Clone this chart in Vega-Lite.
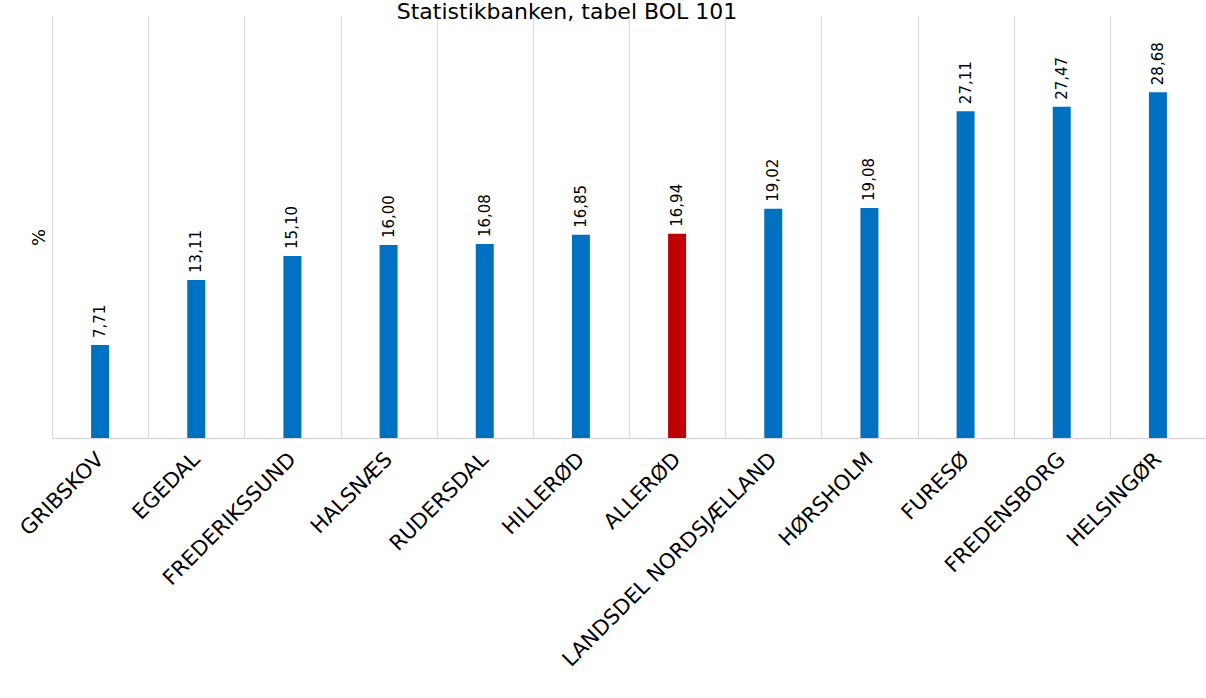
{
  "$schema": "https://vega.github.io/schema/vega-lite/v6.json",
  "autosize": {"type": "none"},
  "padding": {"left": 52, "top": 16, "right": 0, "bottom": 260},
  "width": 1154,
  "height": 422,
  "config": {
    "locale": {"number": {"decimal": ",", "thousands": ".", "grouping": [3], "currency": ["", " kr."]}},
    "view": {"stroke": null},
    "font": "DejaVu Sans"
  },
  "title": {
    "text": "Statistikbanken, tabel BOL 101",
    "font": "DejaVu Sans",
    "fontSize": 22,
    "fontWeight": "normal",
    "color": "#000000",
    "anchor": "middle",
    "baseline": "alphabetic",
    "offset": -25,
    "dx": -62
  },
  "data": {
    "values": [
      {"kommune": "GRIBSKOV", "pct": 7.71},
      {"kommune": "EGEDAL", "pct": 13.11},
      {"kommune": "FREDERIKSSUND", "pct": 15.10},
      {"kommune": "HALSNÆS", "pct": 16.00},
      {"kommune": "RUDERSDAL", "pct": 16.08},
      {"kommune": "HILLERØD", "pct": 16.85},
      {"kommune": "ALLERØD", "pct": 16.94},
      {"kommune": "LANDSDEL NORDSJÆLLAND", "pct": 19.02},
      {"kommune": "HØRSHOLM", "pct": 19.08},
      {"kommune": "FURESØ", "pct": 27.11},
      {"kommune": "FREDENSBORG", "pct": 27.47},
      {"kommune": "HELSINGØR", "pct": 28.68}
    ]
  },
  "encoding": {
    "x": {
      "field": "kommune",
      "type": "nominal",
      "sort": null,
      "scale": {"paddingInner": 0, "paddingOuter": 0},
      "axis": {
        "title": null,
        "tickBand": "extent",
        "grid": true,
        "gridColor": "#d9d9d9",
        "gridWidth": 1,
        "ticks": false,
        "domainColor": "#d9d9d9",
        "domainWidth": 1.5,
        "labelAngle": -45,
        "labelAlign": "right",
        "labelBaseline": "middle",
        "labelFont": "DejaVu Sans",
        "labelFontSize": 21,
        "labelColor": "#000000",
        "labelPadding": 18,
        "labelOverlap": false,
        "labelLimit": 0
      }
    },
    "y": {
      "field": "pct",
      "type": "quantitative",
      "scale": {"domain": [0, 35], "nice": false},
      "axis": {
        "title": "%",
        "titleFont": "DejaVu Sans",
        "titleFontSize": 18,
        "titleFontWeight": "normal",
        "titleColor": "#000000",
        "titleX": -4,
        "titleY": 221,
        "titleAlign": "center",
        "labels": false,
        "ticks": false,
        "domain": false,
        "grid": false
      }
    }
  },
  "layer": [
    {
      "mark": {"type": "bar", "width": 18},
      "encoding": {
        "color": {
          "condition": {"test": "datum.kommune === 'ALLERØD'", "value": "#C00000"},
          "value": "#0070C0"
        }
      }
    },
    {
      "mark": {"type": "text", "angle": -90, "align": "left", "baseline": "middle", "dx": 7, "font": "DejaVu Sans", "fontSize": 15, "color": "#000000"},
      "encoding": {
        "text": {"field": "pct", "type": "quantitative", "format": ".2f"}
      }
    }
  ]
}
